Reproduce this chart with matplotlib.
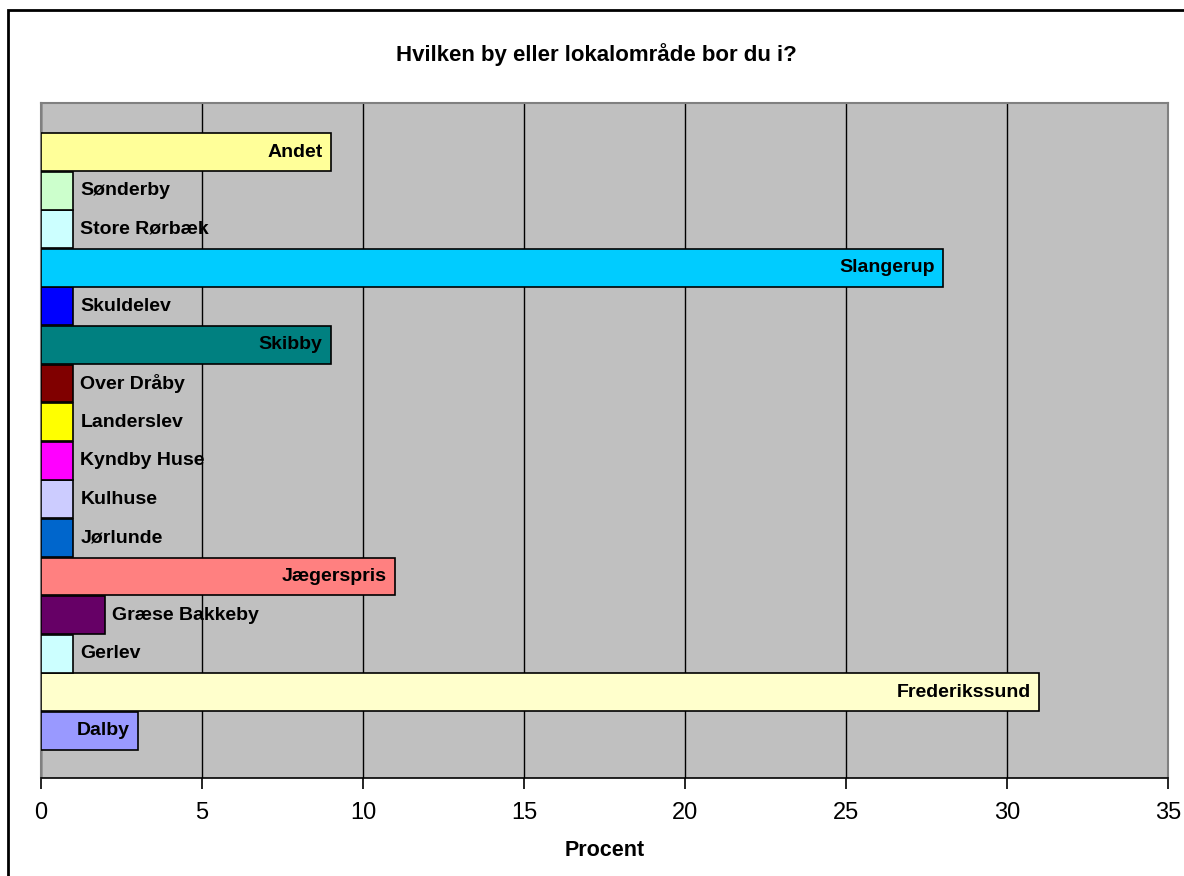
import matplotlib.pyplot as plt
from matplotlib.patches import Rectangle

# categories listed from bottom to top, as drawn
byer = ["Dalby", "Frederikssund", "Gerlev", "Græse Bakkeby", "Jægerspris",
        "Jørlunde", "Kulhuse", "Kyndby Huse", "Landerslev", "Over Dråby",
        "Skibby", "Skuldelev", "Slangerup", "Store Rørbæk", "Sønderby", "Andet"]
procent = [3, 31, 1, 2, 11, 1, 1, 1, 1, 1, 9, 1, 28, 1, 1, 9]
farver = ["#9999FF", "#FFFFCC", "#CCFFFF", "#660066", "#FF8080",
          "#0066CC", "#CCCCFF", "#FF00FF", "#FFFF00", "#800000",
          "#008080", "#0000FF", "#00CCFF", "#CCFFFF", "#CCFFCC", "#FFFF99"]
xticks = [0, 5, 10, 15, 20, 25, 30, 35]

plt.rcParams['font.family'] = ['Liberation Sans', 'DejaVu Sans']

fig = plt.figure(figsize=(11.84, 8.76), dpi=100)
fig.patches.append(Rectangle((8/1184, -0.05), 1.1, 1 - 10/876 + 0.05,
                             transform=fig.transFigure, fill=False,
                             edgecolor='black', linewidth=2))

ax = fig.add_axes([41/1184, 1 - 778/876, 1127/1184, 675/876])
ax.set_facecolor('#C0C0C0')

pos = list(range(len(byer)))
ax.barh(pos, procent, height=0.98, color=farver, edgecolor='black',
        linewidth=1.2, zorder=3)

for i, (navn, v) in enumerate(zip(byer, procent)):
    if v >= 3:
        ax.text(v - 0.25, i, navn, ha='right', va='center',
                fontsize=14, fontweight='bold', zorder=4)
    else:
        ax.text(v + 0.22, i, navn, ha='left', va='center',
                fontsize=14, fontweight='bold', zorder=4)

ax.set_xlim(0, 35)
ax.set_ylim(-1.22, 16.27)
ax.set_xticks(xticks)
ax.set_yticks([])
ax.xaxis.grid(True, color='black', linewidth=1)
ax.set_axisbelow(True)
ax.tick_params(axis='x', direction='out', length=8, width=1.2,
               labelsize=17, pad=9)

for s in ['top', 'right', 'left']:
    ax.spines[s].set_color('#808080')
    ax.spines[s].set_linewidth(1.5)
ax.spines['bottom'].set_color('black')
ax.spines['bottom'].set_linewidth(1.2)

ax.set_xlabel("Procent", fontsize=15.5, fontweight='bold', labelpad=12)
fig.text(596/1184, 1 - 55/876, "Hvilken by eller lokalområde bor du i?",
         ha='center', va='center', fontsize=16, fontweight='bold')

fig.savefig("out.png", dpi=100)
